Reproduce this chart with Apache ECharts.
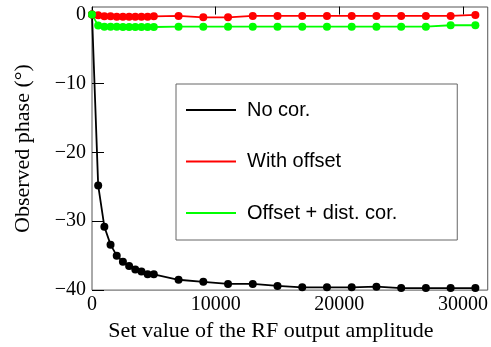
<!DOCTYPE html>
<html>
<head>
<meta charset="utf-8">
<script src="https://cdn.jsdelivr.net/npm/echarts@6/dist/echarts.min.js"></script>
<style>
  html, body { margin: 0; padding: 0; background: #fff; }
  #chart { width: 491px; height: 347px; }
</style>
</head>
<body>
<div id="chart"></div>
<script>
const xValues = [0, 500, 1000, 1500, 2000, 2500, 3000, 3500, 4000, 4500, 5000,
  7000, 9000, 11000, 13000, 15000, 17000, 19000, 21000, 23000, 25000, 27000, 29000, 31000];
const noCor = [0, -24.8, -30.8, -33.4, -35.0, -35.9, -36.5, -37.0, -37.3, -37.7, -37.7,
  -38.5, -38.8, -39.1, -39.1, -39.4, -39.6, -39.6, -39.6, -39.5, -39.7, -39.7, -39.7, -39.7];
const withOffset = [0, -0.1, -0.25, -0.25, -0.3, -0.3, -0.3, -0.3, -0.3, -0.3, -0.25,
  -0.2, -0.4, -0.4, -0.2, -0.2, -0.2, -0.2, -0.2, -0.2, -0.2, -0.2, -0.2, -0.05];
const offsetDist = [0, -1.6, -1.75, -1.75, -1.75, -1.8, -1.8, -1.8, -1.8, -1.8, -1.8,
  -1.75, -1.75, -1.75, -1.75, -1.75, -1.75, -1.75, -1.75, -1.75, -1.75, -1.75, -1.55, -1.55];
const seriesNames = ['No cor.', 'With offset', 'Offset + dist. cor.'];
const seriesColors = ['#000000', '#ff0000', '#00ff00'];

const pairs = arr => xValues.map((x, i) => [x, arr[i]]);
const dataSets = [noCor, withOffset, offsetDist];

const chart = echarts.init(document.getElementById('chart'), null, { renderer: 'canvas' });
const serif = 'Liberation Serif';
chart.setOption({
  animation: false,
  backgroundColor: '#fff',
  grid: { left: 92, top: 7, right: 2, bottom: 51, show: true, borderColor: '#555', borderWidth: 1, containLabel: false },
  xAxis: {
    type: 'value', min: 0, max: 32000, interval: 10000,
    name: 'Set value of the RF output amplitude', nameLocation: 'middle', nameGap: 27,
    nameTextStyle: { fontFamily: serif, fontSize: 22, color: '#000', padding: [0, 38, 0, 0] },
    axisLine: { show: false },
    axisTick: { show: true, inside: true, length: 8, lineStyle: { color: '#000' } },
    splitLine: { show: false },
    axisLabel: { fontFamily: serif, fontSize: 20, color: '#000', margin: 5, showMaxLabel: false,
      formatter: v => String(v) }
  },
  yAxis: {
    type: 'value', min: -40, max: 1.1, interval: 10,
    name: 'Observed phase (°)', nameLocation: 'middle', nameGap: 58, nameRotate: 90,
    nameTextStyle: { fontFamily: serif, fontSize: 22, color: '#000' },
    axisLine: { show: false },
    axisTick: { show: true, inside: true, length: 12, lineStyle: { color: '#000' } },
    splitLine: { show: false },
    axisLabel: { fontFamily: serif, fontSize: 20, color: '#000', margin: 6, showMaxLabel: false,
      formatter: v => String(v).replace('-', '\u2212') }
  },
  legend: {
    orient: 'vertical', left: 176, top: 84,
    padding: [16, 60, 17, 10], itemGap: 31.5,
    itemWidth: 50, itemHeight: 2, icon: 'rect',
    borderColor: '#666', borderWidth: 1, backgroundColor: '#fff',
    textStyle: { fontFamily: 'Liberation Sans', fontSize: 20, color: '#000', padding: [0, 0, 0, 6] },
    data: seriesNames
  },
  series: dataSets.map((d, i) => ({
    name: seriesNames[i], type: 'line', data: pairs(d),
    symbol: 'circle', symbolSize: 8, showAllSymbol: true,
    lineStyle: { color: seriesColors[i], width: 1.8 },
    itemStyle: { color: seriesColors[i] },
    emphasis: { disabled: true }
  }))
});
</script>
</body>
</html>
